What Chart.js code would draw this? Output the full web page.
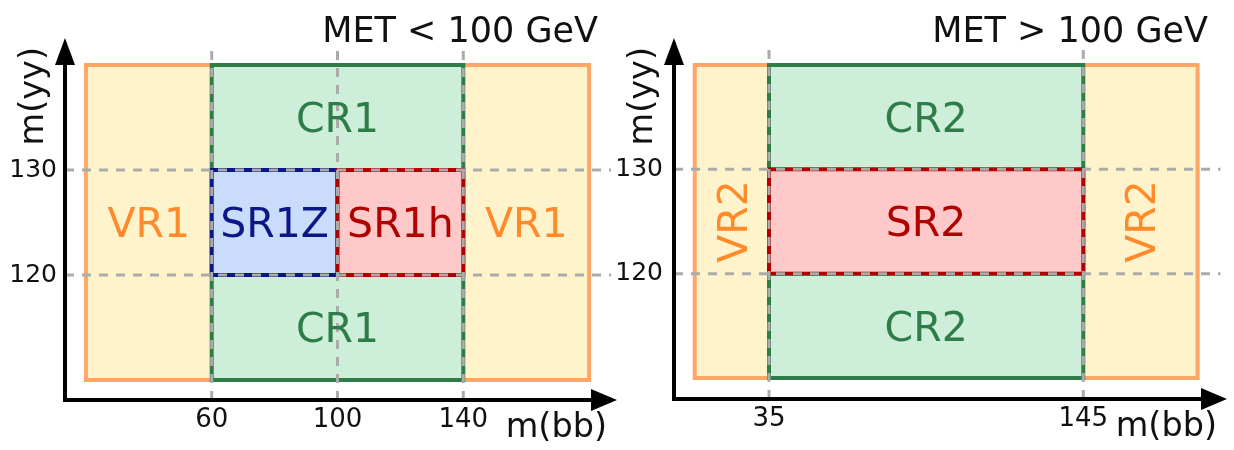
<!DOCTYPE html>
<html>
<head>
<meta charset="utf-8">
<script src="https://cdn.jsdelivr.net/npm/chart.js@4.4.1/dist/chart.umd.min.js"></script>
<style>
html,body{margin:0;padding:0;background:#fff;}
#wrap{position:relative;width:1234px;height:450px;overflow:hidden;background:#fff;}
.pane{position:absolute;top:0;height:450px;}
#p1{left:0;width:617px;}
#p2{left:610px;width:624px;}
</style>
</head>
<body>
<div id="wrap">
  <div class="pane" id="p1"><canvas id="c1" width="617" height="450"></canvas></div>
  <div class="pane" id="p2"><canvas id="c2" width="624" height="450"></canvas></div>
</div>
<script>
// ---------------- data ----------------
const myyTicks = [120, 130];
const myyBand = [110, 140];
const myySignal = [120, 130];

const p1Title = 'MET < 100 GeV';
const p1Ticks = [60, 100, 140];
const p1VR = [20, 180];
const p1CR = [60, 140];
const p1SR1Z = [60, 100];
const p1SR1h = [100, 140];

const p2Title = 'MET > 100 GeV';
const p2Ticks = [35, 145];
const p2VR = [9, 185];
const p2CR = [35, 145];
const p2SR = [35, 145];

const xTitle = 'm(bb)';
const yTitle = 'm(yy)';

// ---------------- style ----------------
const FONT = '"DejaVu Sans", Verdana, sans-serif';
const COL = {
  vrFill: '#FFF3CC', vrLine: '#FFA566', vrText: '#FF8A2A',
  crFill: '#CDEFDA', crLine: '#2E7D48', crText: '#2E7D48',
  szFill: '#C9DCFB', szLine: '#0B1784', szText: '#0B1784',
  shFill: '#FFC9C9', shLine: '#B00000', shText: '#B00000',
  grid: '#ABABAB'
};

const L1 = { xMin: 13.35, xMax: 186.65, yMin: 108.1, yMax: 142.0, yAxisW: 65, xAxisH: 50,
             padTop: 44, padRight: 7, yTickPad: 8, xTickPad: 5, gridTop: 141.5, gridRight: 187 };
const L2 = { xMin: 1.75, xMax: 192.85, yMin: 108.0, yMax: 142.0, yAxisW: 64, xAxisH: 51,
             padTop: 44, padRight: 14, yTickPad: 11, xTickPad: 5, gridTop: 141.5, gridRight: 193 };

function rect(xr, yr) {
  return [{x: xr[0], y: yr[0]}, {x: xr[1], y: yr[0]}, {x: xr[1], y: yr[1]}, {x: xr[0], y: yr[1]}, {x: xr[0], y: yr[0]}];
}
function regionDs(xr, yr, fill, line, order) {
  return { data: rect(xr, yr), backgroundColor: fill, borderColor: line, borderWidth: 4,
           fill: 'shape', pointRadius: 0, tension: 0, order, borderJoinStyle: 'miter',
           borderCapStyle: 'square', clip: false };
}
function gridDs(pts) {
  return { data: pts, borderColor: COL.grid, borderWidth: 3, borderDash: [9, 8], fill: false,
           pointRadius: 0, tension: 0, order: 1, clip: false };
}

const decor = {
  id: 'decor',
  afterDatasetsDraw(chart, args, o) {
    const {ctx, chartArea: a, scales: {x, y}} = chart;
    ctx.save();
    // axes
    ctx.strokeStyle = '#000'; ctx.fillStyle = '#000'; ctx.lineWidth = 4; ctx.lineCap = 'butt';
    ctx.beginPath();
    ctx.moveTo(a.left, a.top); ctx.lineTo(a.left, a.bottom + 2);
    ctx.moveTo(a.left - 2, a.bottom); ctx.lineTo(a.right, a.bottom);
    ctx.stroke();
    ctx.beginPath();
    ctx.moveTo(a.right + 7, a.bottom); ctx.lineTo(a.right - 19, a.bottom - 11); ctx.lineTo(a.right - 19, a.bottom + 11);
    ctx.closePath(); ctx.fill();
    ctx.beginPath();
    ctx.moveTo(a.left, a.top - 6); ctx.lineTo(a.left - 10, a.top + 21); ctx.lineTo(a.left + 10, a.top + 21);
    ctx.closePath(); ctx.fill();
    // region labels
    const fs = 41;
    for (const t of o.labels) {
      const px = x.getPixelForValue((t.x[0] + t.x[1]) / 2);
      const py = y.getPixelForValue((t.y[0] + t.y[1]) / 2);
      ctx.save();
      ctx.translate(px, py);
      if (t.rotate) ctx.rotate(-Math.PI / 2);
      ctx.font = fs + 'px ' + FONT; ctx.fillStyle = t.color;
      ctx.textAlign = 'center'; ctx.textBaseline = 'alphabetic';
      ctx.fillText(t.text, 0, fs * 0.3645);
      ctx.restore();
    }
    // title
    ctx.fillStyle = '#111';
    ctx.font = '35px ' + FONT; ctx.textAlign = 'right'; ctx.textBaseline = 'alphabetic';
    ctx.fillText(o.title, a.right - 12, 42);
    // axis titles
    ctx.font = '33.5px ' + FONT;
    ctx.fillText(xTitle, a.right - 3, a.bottom + 37);
    ctx.save();
    ctx.translate(a.left - 22, a.top + 3);
    ctx.rotate(-Math.PI / 2);
    ctx.textAlign = 'right';
    ctx.fillText(yTitle, 0, 0);
    ctx.restore();
    ctx.restore();
  }
};

function makePanel(id, L, title, xTicks, datasets, labels) {
  const verticals = xTicks.map(v => gridDs([{x: v, y: L.yMin}, {x: v, y: L.gridTop}]));
  const horizontals = myyTicks.map(v => gridDs([{x: L.xMin, y: v}, {x: L.gridRight, y: v}]));
  return new Chart(document.getElementById(id), {
    type: 'line',
    data: { datasets: datasets.concat(verticals, horizontals) },
    options: {
      responsive: false, animation: false, devicePixelRatio: 1, events: [],
      layout: { padding: { top: L.padTop, right: L.padRight, left: 0, bottom: 0 } },
      plugins: { legend: { display: false }, tooltip: { enabled: false },
                 decor: { title, labels } },
      scales: {
        x: {
          type: 'linear', position: 'bottom', min: L.xMin, max: L.xMax,
          afterBuildTicks: s => { s.ticks = xTicks.map(v => ({value: v})); },
          afterFit: s => { s.height = L.xAxisH; },
          grid: { display: false, drawTicks: false }, border: { display: false },
          ticks: { padding: L.xTickPad, maxRotation: 0, autoSkip: false, color: '#111',
                   font: { family: FONT, size: 26 } }
        },
        y: {
          type: 'linear', position: 'left', min: L.yMin, max: L.yMax,
          afterBuildTicks: s => { s.ticks = myyTicks.map(v => ({value: v})); },
          afterFit: s => { s.width = L.yAxisW; },
          grid: { display: false, drawTicks: false }, border: { display: false },
          ticks: { padding: L.yTickPad, color: '#111', font: { family: FONT, size: 25 } }
        }
      }
    },
    plugins: [decor]
  });
}

makePanel('c1', L1, p1Title, p1Ticks, [
  regionDs(p1VR, myyBand, COL.vrFill, COL.vrLine, 100),
  regionDs(p1CR, myyBand, COL.crFill, COL.crLine, 99),
  regionDs(p1SR1Z, myySignal, COL.szFill, COL.szLine, 98),
  regionDs(p1SR1h, myySignal, COL.shFill, COL.shLine, 97)
], [
  {text: 'VR1', x: [p1VR[0], p1CR[0]], y: myyBand, color: COL.vrText},
  {text: 'VR1', x: [p1CR[1], p1VR[1]], y: myyBand, color: COL.vrText},
  {text: 'CR1', x: p1CR, y: [myySignal[1], myyBand[1]], color: COL.crText},
  {text: 'CR1', x: p1CR, y: [myyBand[0], myySignal[0]], color: COL.crText},
  {text: 'SR1Z', x: p1SR1Z, y: myySignal, color: COL.szText},
  {text: 'SR1h', x: p1SR1h, y: myySignal, color: COL.shText}
]);

makePanel('c2', L2, p2Title, p2Ticks, [
  regionDs(p2VR, myyBand, COL.vrFill, COL.vrLine, 100),
  regionDs(p2CR, myyBand, COL.crFill, COL.crLine, 99),
  regionDs(p2SR, myySignal, COL.shFill, COL.shLine, 98)
], [
  {text: 'VR2', x: [p2VR[0], p2CR[0]], y: myyBand, color: COL.vrText, rotate: true},
  {text: 'VR2', x: [p2CR[1], p2VR[1]], y: myyBand, color: COL.vrText, rotate: true},
  {text: 'CR2', x: p2CR, y: [myySignal[1], myyBand[1]], color: COL.crText},
  {text: 'CR2', x: p2CR, y: [myyBand[0], myySignal[0]], color: COL.crText},
  {text: 'SR2', x: p2SR, y: myySignal, color: COL.shText}
]);
</script>
</body>
</html>
